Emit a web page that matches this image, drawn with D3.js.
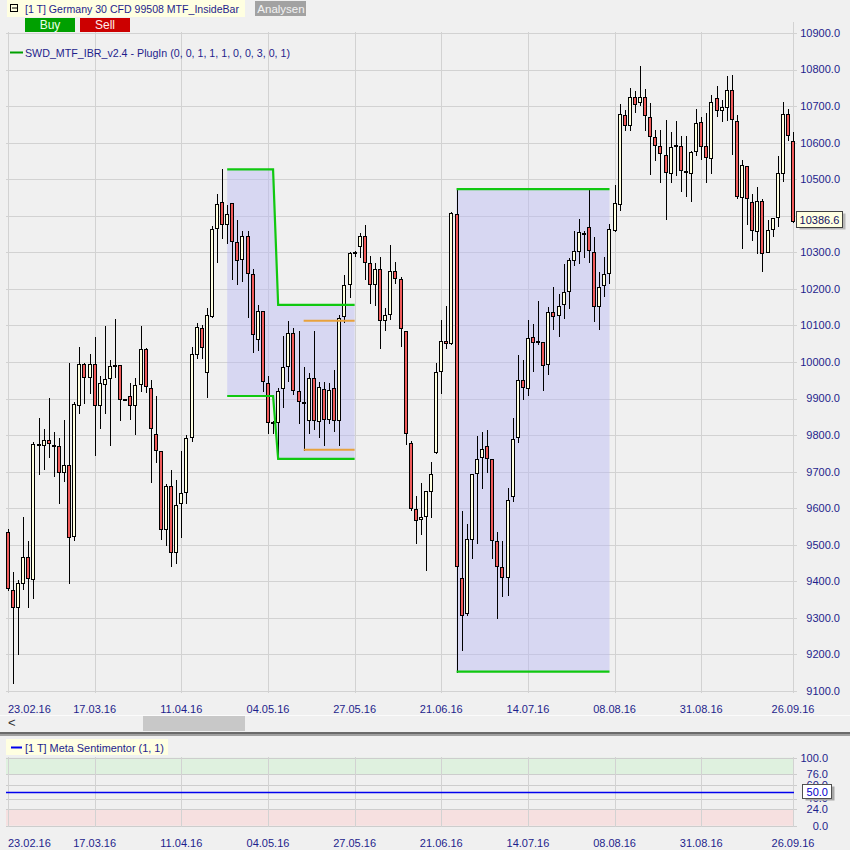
<!DOCTYPE html>
<html><head><meta charset="utf-8">
<script src="https://cdn.jsdelivr.net/npm/d3@7"></script>
<style>
body{margin:0;background:#f0f0f0}
svg{display:block}
text{font-family:"Liberation Sans",Arial,sans-serif}
</style>
</head><body><svg id="c" width="850" height="850"></svg>
<script>
// ---------- DATA ----------
const openV=[9534,9377,9331,9395,9467,9406,9774,9773,9786,9773,9770,9699,9718,9524,9882,9994,9959,9994,9882,9940,
9956,9992,9992,9898,9907,9882,9939,10036,9929,9804,9756,9543,9661,9479,9613,9645,9795,10023,10092,9972,
10127,10366,10437,10377,10434,10327,10281,10344,10240,10062,10139,9942,9836,9837,9928,9988,10078,9920,9890,9840,
9955,9838,9927,9843,9928,9840,10125,10213,10300,10317,10344,10270,10213,10254,10114,10130,10248,10226,10086,9778,
9597,9570,9580,9648,9755,9975,10057,10051,10404,9408,9314,9517,9696,9739,9769,9734,9510,9438,9411,9633,
9794,9950,9928,10068,10058,10054,9994,10136,10128,10158,10193,10278,10303,10352,10370,10300,10152,10210,10243,10360,
10431,10675,10648,10724,10710,10724,10669,10615,10590,10565,10516,10593,10590,10523,10516,10576,10656,10590,10557,10721,
10689,10697,10743,10658,10451,10535,10438,10358,10440,10300,10363,10396,10516,10678,10604];
const highV=[9544,9426,9404,9577,9509,9782,9848,9816,9902,9809,9791,9842,9998,9890,10041,9998,10023,10069,9962,10098,
10006,10118,9992,9900,9943,9957,10098,10038,9952,9907,9756,9666,9705,9678,9756,9801,10041,10107,10102,10147,
10371,10459,10527,10429,10434,10388,10358,10358,10254,10156,10139,9962,9838,9929,10071,10111,10092,10085,9986,9971,
10085,9946,9944,9942,9978,10129,10238,10300,10305,10352,10375,10290,10270,10286,10149,10320,10274,10232,10086,9785,
9633,9668,9646,9726,9996,10116,10153,10410,10473,9592,9557,9693,9797,9808,9814,9734,9534,9510,9654,9846,
10018,10005,10114,10103,10167,10054,10151,10204,10186,10268,10284,10358,10390,10358,10476,10341,10245,10286,10377,10484,
10705,10689,10749,10741,10810,10746,10708,10634,10634,10661,10628,10658,10617,10617,10576,10691,10669,10680,10730,10754,
10716,10782,10784,10675,10552,10535,10459,10478,10445,10388,10393,10563,10710,10691,10628];
const lowV=[9375,9121,9200,9380,9329,9354,9693,9706,9740,9688,9614,9674,9395,9513,9860,9887,9914,9746,9819,9860,
9774,9958,9840,9896,9844,9804,9922,9918,9671,9726,9515,9499,9442,9449,9521,9614,9783,10010,10010,9903,
10122,10273,10340,10325,10228,10213,10222,10122,10027,10034,9921,9805,9807,9734,9878,9949,9912,9834,9759,9805,
9816,9796,9772,9832,9812,9772,10110,10177,10290,10286,10228,10161,10155,10039,10087,10118,10215,10045,9775,9595,
9506,9529,9430,9577,9752,9916,10039,10048,9153,9212,9307,9465,9506,9656,9700,9465,9301,9361,9363,9621,
9780,9900,9909,9975,10050,9923,9966,10089,10070,10120,10149,10265,10270,10288,10274,10113,10091,10181,10215,10358,
10415,10634,10634,10685,10702,10634,10515,10552,10493,10390,10493,10511,10469,10455,10440,10565,10555,10492,10516,10672,
10658,10661,10570,10448,10311,10377,10333,10297,10248,10300,10344,10371,10494,10606,10382];
const closeV=[9382,9331,9395,9467,9409,9776,9776,9786,9779,9773,9699,9718,9522,9885,9994,9959,9994,9882,9942,9953,
9988,9992,9899,9898,9882,9938,10036,9934,9819,9758,9542,9661,9479,9609,9643,9793,10023,10095,10041,10128,
10363,10433,10377,10404,10331,10278,10344,10243,10076,10139,9948,9836,9835,9920,9985,10078,9923,9893,9890,9955,
9840,9931,9843,9923,9840,10121,10210,10297,10300,10344,10273,10213,10254,10114,10128,10248,10229,10092,9805,9600,
9568,9577,9646,9693,9972,10057,10051,10407,9443,9307,9515,9693,9734,9761,9737,9512,9441,9411,9622,9789,
9950,9931,10065,10056,10058,9991,10136,10125,10152,10191,10278,10303,10355,10352,10306,10152,10204,10240,10363,10434,
10678,10649,10724,10705,10724,10675,10617,10593,10571,10519,10587,10593,10524,10523,10574,10653,10590,10560,10710,10689,
10697,10743,10664,10453,10538,10448,10360,10440,10297,10360,10393,10516,10678,10620,10386.6];

const tickIdx=[0,17,34,51,68,85,102,119,136,154];
const tickLabels=["23.02.16","17.03.16","11.04.16","04.05.16","27.05.16","21.06.16","14.07.16","08.08.16","31.08.16","26.09.16"];
const priceTicks=[9100,9200,9300,9400,9500,9600,9700,9800,9900,10000,10100,10200,10300,10400,10500,10600,10700,10800,10900];
const sentTicks=[0,24,40,60,76,100];
const sentLabels=["0.0","24.0","40.0","60.0","76.0","100.0"];
const sentValue=50;
const lastPrice=10386.6;

// inside-bar boxes: [barIndex, price]
const box1Upper=[[43,10527],[52,10527],[53,10156],[68,10156]];
const box1Lower=[[43,9907],[52,9907],[53,9735],[68,9735]];
const box2Upper=[[88,10473],[118,10473]];
const box2Lower=[[88,9153],[118,9153]];
const orangeUpper=[[58,10113],[68,10113]];
const orangeLower=[[58,9760],[68,9760]];

// ---------- DRAW ----------
const svg=d3.select("#c");
const NAVY="#1e1e8c";
svg.append("rect").attr("width",850).attr("height",850).attr("fill","#f0f0f0");

const x=d3.scaleLinear().domain([0,154]).range([8,793]);
const y=d3.scaleLinear().domain([9100,10900]).range([691,33]);
const y2=d3.scaleLinear().domain([0,100]).range([825.7,757.7]);
const px=v=>Math.round(v)+0.5;

// main grid
const g=svg.append("g");
g.selectAll(".hg").data(priceTicks).join("line")
 .attr("x1",6).attr("x2",797).attr("y1",d=>px(y(d))).attr("y2",d=>px(y(d)))
 .attr("stroke","#d2d2d2").attr("stroke-width",1);
g.selectAll(".vg").data(tickIdx).join("line")
 .attr("x1",d=>px(x(d))).attr("x2",d=>px(x(d))).attr("y1",d=>d===154?22:32).attr("y2",693)
 .attr("stroke","#d2d2d2").attr("stroke-width",1);

// boxes fill
const area=d3.area().x(d=>x(d[0][0])).y0(d=>y(d[1][1])).y1(d=>y(d[0][1])).curve(d3.curveLinear);
[[box1Upper,box1Lower],[box2Upper,box2Lower]].forEach(([u,l])=>{
  const pts=u.map((p,i)=>[p,l[i]]);
  svg.append("path").attr("d",area(pts)).attr("fill","rgb(180,180,245)").attr("fill-opacity",0.42);
});

// candles
const idx=d3.range(openV.length);
const cg=svg.append("g");
cg.selectAll(".wick").data(idx).join("line")
 .attr("x1",i=>px(x(i))).attr("x2",i=>px(x(i)))
 .attr("y1",i=>Math.round(y(highV[i]))).attr("y2",i=>Math.round(y(lowV[i]))+1)
 .attr("stroke","#000").attr("stroke-width",1);
cg.selectAll(".body").data(idx).join("rect")
 .attr("x",i=>Math.round(x(i))-1.5).attr("width",3)
 .attr("y",i=>Math.round(y(Math.max(openV[i],closeV[i])))+0.5)
 .attr("height",i=>Math.max(1,Math.round(y(Math.min(openV[i],closeV[i])))-Math.round(y(Math.max(openV[i],closeV[i])))))
 .attr("fill",i=>closeV[i]<openV[i]?"#ef5a5a":"#ffffe0")
 .attr("stroke","#000").attr("stroke-width",1);

// green & orange lines
const line=d3.line().x(d=>x(d[0])).y(d=>y(d[1]));
[box1Upper,box1Lower,box2Upper,box2Lower].forEach(d=>{
  svg.append("path").attr("d",line(d)).attr("fill","none").attr("stroke","#10c810").attr("stroke-width",2.2);
});
[orangeUpper,orangeLower].forEach(d=>{
  svg.append("path").attr("d",line(d)).attr("fill","none").attr("stroke","#e8a23c").attr("stroke-width",2);
});

// price axis labels (the one hidden under the last-price tag is not shown)
const lp=y(lastPrice);
svg.selectAll(".pl").data(priceTicks.filter(d=>Math.abs(y(d)-lp)>12)).join("text")
 .attr("x",840).attr("y",d=>y(d)).attr("dy","0.35em").attr("text-anchor","end")
 .attr("font-size",11).attr("fill",NAVY).text(d=>d.toFixed(1));

// last price tag
svg.append("rect").attr("x",799.5).attr("y",Math.round(lp)-7.5).attr("width",46).attr("height",16).attr("fill","#b8b8b8");
svg.append("rect").attr("x",796.5).attr("y",Math.round(lp)-9.5).attr("width",46).attr("height",16).attr("fill","#ffffe1").attr("stroke","#404040");
svg.append("text").attr("x",819.5).attr("y",lp-1).attr("dy","0.35em").attr("text-anchor","middle")
 .attr("font-size",11).attr("fill","#101060").text(lastPrice.toFixed(1));

// date labels (top and bottom)
[712.5,847].forEach(by=>{
  svg.selectAll(null).data(tickIdx).join("text")
   .attr("x",(d,i)=>i===0?8:x(d)).attr("y",by)
   .attr("text-anchor",(d,i)=>i===0?"start":"middle")
   .attr("font-size",11).attr("fill",NAVY).text((d,i)=>tickLabels[i]);
});

// header
svg.append("rect").attr("x",7).attr("y",0).attr("width",238).attr("height",17).attr("fill","#ffffe1");
svg.append("rect").attr("x",10.5).attr("y",4.5).attr("width",7).attr("height",7).attr("fill","none").attr("stroke","#000");
svg.append("line").attr("x1",12).attr("x2",17).attr("y1",8).attr("y2",8).attr("stroke","#000");
svg.append("text").attr("x",25).attr("y",12.5).attr("font-size",11).attr("fill",NAVY)
 .attr("textLength",214).attr("lengthAdjust","spacingAndGlyphs")
 .text("[1 T] Germany 30 CFD   99508 MTF_InsideBar");
svg.append("rect").attr("x",255).attr("y",1).attr("width",51).attr("height",15).attr("fill","#a2a2a2");
svg.append("text").attr("x",281).attr("y",12.5).attr("text-anchor","middle").attr("font-size",11.5).attr("fill","#f2f2f2").text("Analysen");
svg.append("rect").attr("x",25).attr("y",18).attr("width",50).attr("height",14).attr("fill","#00a000");
svg.append("text").attr("x",50).attr("y",29).attr("text-anchor","middle").attr("font-size",12).attr("fill","#e8ffe8").text("Buy");
svg.append("rect").attr("x",80).attr("y",18).attr("width",50).attr("height",14).attr("fill","#cc0000");
svg.append("text").attr("x",105).attr("y",29).attr("text-anchor","middle").attr("font-size",12).attr("fill","#ffecec").text("Sell");

// main legend
svg.append("line").attr("x1",10).attr("x2",23).attr("y1",52.5).attr("y2",52.5).attr("stroke","#00a000").attr("stroke-width",2);
svg.append("text").attr("x",25).attr("y",56.5).attr("font-size",11).attr("fill",NAVY)
 .attr("textLength",265).attr("lengthAdjust","spacingAndGlyphs")
 .text("SWD_MTF_IBR_v2.4 - PlugIn  (0, 0, 1, 1, 1, 0, 0, 3, 0, 1)");

// scrollbar & separator
svg.append("line").attr("x1",0).attr("x2",850).attr("y1",715.5).attr("y2",715.5).attr("stroke","#fbfbfb");
svg.append("rect").attr("x",143).attr("y",716).attr("width",102).attr("height",15).attr("fill","#c8c8c8");
svg.append("text").attr("x",8).attr("y",726.5).attr("font-size",13).attr("fill","#303030").text("<");
svg.append("rect").attr("x",0).attr("y",732).attr("width",850).attr("height",2).attr("fill","#6a6a6a");
svg.append("rect").attr("x",0).attr("y",734).attr("width",850).attr("height",2).attr("fill","#a0a0a0");

// lower panel
svg.append("rect").attr("x",6).attr("y",y2(100)).attr("width",788).attr("height",y2(76)-y2(100)).attr("fill","#dff1df");
svg.append("rect").attr("x",6).attr("y",y2(24)).attr("width",788).attr("height",y2(0)-y2(24)).attr("fill","#f6e0e0");
svg.selectAll(".shg").data(sentTicks).join("line")
 .attr("x1",6).attr("x2",797).attr("y1",d=>px(y2(d))).attr("y2",d=>px(y2(d)))
 .attr("stroke","#cdcdcd");
svg.selectAll(".svg").data(tickIdx).join("line")
 .attr("x1",d=>px(x(d))).attr("x2",d=>px(x(d))).attr("y1",757).attr("y2",827)
 .attr("stroke","#d2d2d2");
svg.append("line").attr("x1",6).attr("x2",794).attr("y1",px(y2(sentValue))).attr("y2",px(y2(sentValue)))
 .attr("stroke","#0000ee").attr("stroke-width",1.5);
svg.selectAll(".sl").data(sentTicks).join("text")
 .attr("x",828).attr("y",d=>y2(d)).attr("dy","0.35em").attr("text-anchor","end")
 .attr("font-size",11).attr("fill",NAVY).text((d,i)=>sentLabels[i]);
const sv=y2(sentValue);
svg.append("rect").attr("x",805.5).attr("y",Math.round(sv)-5.5).attr("width",29).attr("height",14).attr("fill","#a8a8a8");
svg.append("rect").attr("x",802.5).attr("y",Math.round(sv)-7.5).attr("width",29).attr("height",14).attr("fill","#ffffff").attr("stroke","#505050");
svg.append("text").attr("x",828).attr("y",sv).attr("dy","0.35em").attr("text-anchor","end")
 .attr("font-size",11).attr("fill","#0000cc").text(sentValue.toFixed(1));

// lower legend
svg.append("rect").attr("x",6).attr("y",739).attr("width",162).attr("height",16).attr("fill","#ffffe1");
svg.append("line").attr("x1",11).attr("x2",22).attr("y1",747.5).attr("y2",747.5).attr("stroke","#0000ee").attr("stroke-width",2);
svg.append("text").attr("x",25).attr("y",751.5).attr("font-size",11).attr("fill",NAVY)
 .attr("textLength",139).attr("lengthAdjust","spacingAndGlyphs")
 .text("[1 T] Meta Sentimentor  (1, 1)");
</script></body></html>
